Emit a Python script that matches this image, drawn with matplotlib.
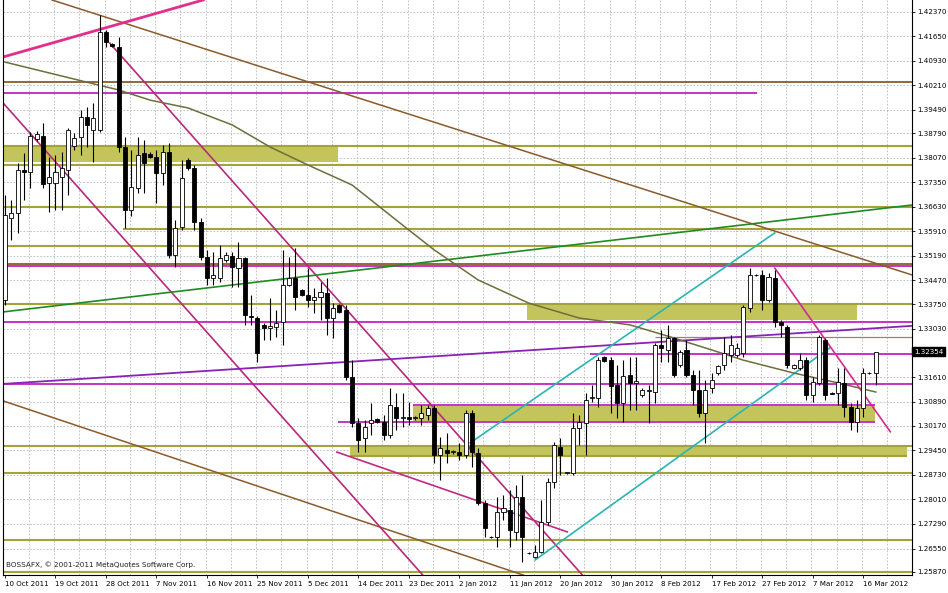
import numpy as np
import matplotlib
matplotlib.use('Agg')
import matplotlib.pyplot as plt
from matplotlib.patches import Rectangle
from matplotlib import transforms

# bougies journalieres (barres du dimanche comprises), 10 Oct 2011 -> 19 Mar 2012
opens = [1.3388, 1.3630, 1.3645, 1.3771, 1.3765, 1.3863, 1.3871, 1.3733, 1.3733, 1.3751,
         1.3771, 1.3842, 1.3868, 1.3927, 1.3889, 1.3889, 1.4178, 1.4142, 1.4134, 1.3839,
         1.3653, 1.3718, 1.3821, 1.3818, 1.3810, 1.3762, 1.3824, 1.3521, 1.3603, 1.3801,
         1.3777, 1.3618, 1.3515, 1.3453, 1.3453, 1.3506, 1.3518, 1.3482, 1.3512, 1.3341,
         1.3335, 1.3315, 1.3306, 1.3309, 1.3324, 1.3432, 1.3453, 1.3418, 1.3403, 1.3388,
         1.3397, 1.3409, 1.3335, 1.3374, 1.3359, 1.3161, 1.3026, 1.2982, 1.3026, 1.3038,
         1.3029, 1.2991, 1.3073, 1.3041, 1.3044, 1.3041, 1.3041, 1.3050, 1.3070, 1.2932,
         1.2946, 1.2940, 1.2940, 1.2932, 1.3055, 1.2937, 1.2790, 1.2691, 1.2690, 1.2764,
         1.2770, 1.2705, 1.2808, 1.2643, 1.2631, 1.2646, 1.2734, 1.2852, 1.2955, 1.2879,
         1.2879, 1.3011, 1.3026, 1.3100, 1.3100, 1.3220, 1.3211, 1.3138, 1.3085, 1.3167,
         1.3144, 1.3108, 1.3120, 1.3117, 1.3256, 1.3241, 1.3276, 1.3197, 1.3241, 1.3167,
         1.3123, 1.3055, 1.3129, 1.3173, 1.3197, 1.3226, 1.3226, 1.3232, 1.3365, 1.3462,
         1.3462, 1.3388, 1.3453, 1.3324, 1.3309, 1.3188, 1.3188, 1.3211, 1.3108, 1.3144,
         1.3270, 1.3114, 1.3114, 1.3144, 1.3073, 1.3029, 1.3070, 1.3173, 1.3173]
highs = [1.3698, 1.3683, 1.3792, 1.3821, 1.3883, 1.3886, 1.3910, 1.3810, 1.3815, 1.3824,
         1.3895, 1.3880, 1.3948, 1.3957, 1.3969, 1.4228, 1.4184, 1.4145, 1.4163, 1.3868,
         1.3830, 1.3868, 1.3860, 1.3824, 1.3830, 1.3845, 1.3851, 1.3624, 1.3801, 1.3807,
         1.3786, 1.3630, 1.3536, 1.3530, 1.3550, 1.3530, 1.3530, 1.3559, 1.3515, 1.3403,
         1.3341, 1.3321, 1.3394, 1.3359, 1.3536, 1.3515, 1.3541, 1.3421, 1.3482, 1.3424,
         1.3441, 1.3453, 1.3379, 1.3377, 1.3374, 1.3211, 1.3041, 1.3035, 1.3085, 1.3041,
         1.3050, 1.3129, 1.3114, 1.3114, 1.3088, 1.3047, 1.3079, 1.3079, 1.3079, 1.2985,
         1.2997, 1.2946, 1.2967, 1.3064, 1.3064, 1.2952, 1.2799, 1.2693, 1.2808, 1.2814,
         1.2829, 1.2843, 1.2873, 1.2646, 1.2667, 1.2799, 1.2864, 1.2970, 1.2982, 1.2882,
         1.3055, 1.3050, 1.3114, 1.3138, 1.3220, 1.3223, 1.3220, 1.3197, 1.3211, 1.3220,
         1.3220, 1.3129, 1.3138, 1.3262, 1.3300, 1.3315, 1.3279, 1.3241, 1.3270, 1.3182,
         1.3182, 1.3153, 1.3173, 1.3197, 1.3279, 1.3285, 1.3262, 1.3374, 1.3482, 1.3465,
         1.3477, 1.3468, 1.3477, 1.3329, 1.3315, 1.3200, 1.3232, 1.3220, 1.3161, 1.3285,
         1.3276, 1.3117, 1.3188, 1.3188, 1.3085, 1.3094, 1.3188, 1.3176, 1.3232]
lows = [1.3374, 1.3565, 1.3586, 1.3683, 1.3718, 1.3857, 1.3718, 1.3648, 1.3653, 1.3653,
        1.3698, 1.3830, 1.3815, 1.3839, 1.3795, 1.3883, 1.4134, 1.4134, 1.3824, 1.3600,
        1.3636, 1.3703, 1.3703, 1.3807, 1.3674, 1.3727, 1.3512, 1.3485, 1.3594, 1.3771,
        1.3594, 1.3506, 1.3432, 1.3432, 1.3441, 1.3500, 1.3427, 1.3427, 1.3315, 1.3315,
        1.3206, 1.3270, 1.3270, 1.3279, 1.3256, 1.3429, 1.3359, 1.3400, 1.3368, 1.3350,
        1.3329, 1.3285, 1.3276, 1.3350, 1.3153, 1.3014, 1.2940, 1.2940, 1.2991, 1.3026,
        1.2976, 1.2982, 1.3005, 1.3014, 1.3020, 1.3035, 1.3020, 1.3035, 1.2908, 1.2858,
        1.2908, 1.2935, 1.2917, 1.2923, 1.2896, 1.2784, 1.2690, 1.2687, 1.2661, 1.2740,
        1.2661, 1.2681, 1.2616, 1.2640, 1.2628, 1.2643, 1.2725, 1.2834, 1.2873, 1.2876,
        1.2873, 1.2961, 1.2932, 1.3088, 1.3073, 1.3206, 1.3055, 1.3041, 1.3029, 1.3064,
        1.3064, 1.3103, 1.3026, 1.3085, 1.3206, 1.3206, 1.3161, 1.3191, 1.3161, 1.3079,
        1.3044, 1.2967, 1.3114, 1.3167, 1.3182, 1.3206, 1.3220, 1.3220, 1.3353, 1.3459,
        1.3359, 1.3382, 1.3309, 1.3279, 1.3188, 1.3185, 1.3182, 1.3094, 1.3088, 1.3138,
        1.3094, 1.3111, 1.3079, 1.3044, 1.3005, 1.3000, 1.3044, 1.3170, 1.3138]
closes = [1.3639, 1.3645, 1.3771, 1.3765, 1.3871, 1.3877, 1.3730, 1.3751, 1.3765, 1.3777,
          1.3889, 1.3866, 1.3927, 1.3904, 1.3924, 1.4178, 1.4148, 1.4136, 1.3839, 1.3653,
          1.3721, 1.3815, 1.3792, 1.3810, 1.3762, 1.3824, 1.3521, 1.3600, 1.3748, 1.3777,
          1.3618, 1.3515, 1.3453, 1.3462, 1.3512, 1.3521, 1.3485, 1.3512, 1.3344, 1.3338,
          1.3232, 1.3306, 1.3312, 1.3321, 1.3432, 1.3453, 1.3397, 1.3403, 1.3388, 1.3397,
          1.3412, 1.3335, 1.3365, 1.3353, 1.3161, 1.3026, 1.2976, 1.3014, 1.3035, 1.3029,
          1.2991, 1.3079, 1.3041, 1.3044, 1.3038, 1.3044, 1.3055, 1.3070, 1.2932, 1.2952,
          1.2937, 1.2943, 1.2932, 1.3055, 1.2940, 1.2790, 1.2717, 1.2689, 1.2764, 1.2776,
          1.2711, 1.2808, 1.2690, 1.2643, 1.2646, 1.2734, 1.2852, 1.2961, 1.2932, 1.2881,
          1.3011, 1.3029, 1.3094, 1.3103, 1.3211, 1.3208, 1.3135, 1.3085, 1.3164, 1.3144,
          1.3150, 1.3123, 1.3123, 1.3256, 1.3247, 1.3276, 1.3167, 1.3235, 1.3167, 1.3123,
          1.3055, 1.3123, 1.3153, 1.3194, 1.3232, 1.3256, 1.3247, 1.3368, 1.3462, 1.3461,
          1.3388, 1.3456, 1.3324, 1.3315, 1.3197, 1.3197, 1.3211, 1.3108, 1.3147, 1.3279,
          1.3108, 1.3112, 1.3147, 1.3073, 1.3029, 1.3070, 1.3173, 1.3172, 1.3235]

# moyenne mobile
ma_bars = [0, 9, 18, 23, 29, 36, 42, 48, 55, 63, 68, 75, 83, 91, 99, 105, 112, 117, 125, 132, 138]
ma_vals = [1.4089, 1.4048, 1.4007, 1.3977, 1.3954, 1.3904, 1.3839, 1.3786, 1.3727, 1.3609, 1.3536,
           1.3447, 1.3379, 1.3335, 1.3315, 1.3282, 1.3241, 1.3211, 1.3173, 1.3144, 1.3117]

# echelle de droite
price_ticks = [1.42370, 1.41650, 1.40930, 1.40210, 1.39490, 1.38790, 1.38070, 1.37350, 1.36630,
               1.35910, 1.35190, 1.34470, 1.33750, 1.33030, 1.32320, 1.31610, 1.30890, 1.30170,
               1.29450, 1.28730, 1.28010, 1.27290, 1.26550, 1.25870]
last_price = 1.32354

date_bars = [0, 8, 16, 24, 32, 40, 48, 56, 64, 72, 80, 88, 96, 104, 112, 120, 128, 136]
date_labels = ['10 Oct 2011', '19 Oct 2011', '28 Oct 2011', '7 Nov 2011', '16 Nov 2011',
               '25 Nov 2011', '5 Dec 2011', '14 Dec 2011', '23 Dec 2011', '2 Jan 2012',
               '11 Jan 2012', '20 Jan 2012', '30 Jan 2012', '8 Feb 2012', '17 Feb 2012',
               '27 Feb 2012', '7 Mar 2012', '16 Mar 2012']

# objets traces : niveaux horizontaux (prix, debut, fin)
olive_levels = [(1.3842, None, None), (1.3786, None, None), (1.3662, None, None),
                (1.3597, 18.7, None), (1.3547, None, None), (1.3377, None, None),
                (1.2958, None, None), (1.2929, 54.7, 143.0), (1.2879, None, None),
                (1.2681, None, None), (1.2587, None, None)]
thin_levels = [(1.3279, 103.0, None)]
magenta_levels = [(1.3998, None, 119.2), (1.3487, None, None), (1.3323, None, None),
                  (1.3229, 92.7, None), (1.3142, None, None), (1.3079, 64.7, 137.9),
                  (1.3029, 52.8, 137.9)]
brown_levels = [(1.4030, None, None), (1.3494, None, None)]

# zones (debut, fin, bas, haut)
zones = [(-0.3, 52.8, 1.3795, 1.3839), (82.7, 135.0, 1.3329, 1.3374),
         (64.7, 137.9, 1.3029, 1.3076), (54.7, 143.0, 1.2929, 1.2958)]

# droites (barre0, prix0, barre1, prix1)
brown_a = [7.45, 1.4272, 143.74, 1.3462]
brown_b = [-0.32, 1.3091, 82.1, 1.2578]
pink_top = [-0.32, 1.4104, 31.4, 1.4272]
chan_1 = [-0.32, 1.3969, 66.2, 1.2578]
chan_2 = [16.6, 1.4145, 91.5, 1.2578]
green_line = [-0.32, 1.3353, 143.74, 1.3668]
purple_line = [-0.32, 1.3141, 143.74, 1.3312]
cyan_up = [73.7, 1.2967, 122.0, 1.3586]
cyan_low = [84.0, 1.2622, 130.7, 1.3247]
pink_right = [122.0, 1.3482, 140.3, 1.3000]
pink_mid = [52.6, 1.2940, 89.1, 1.2705]

XMIN, XMAX = -0.32, 143.74
fig = plt.figure(figsize=(9.48, 5.93), dpi=100)
ax = fig.add_axes([3 / 948, 18 / 593, 909 / 948, 575 / 593])
ax.set_xlim(XMIN, XMAX)
ax.set_ylim(1.2578, 1.4272)

# grille pointillee
for k in range(1, 37):
    ax.axvline(4 * k - 0.2, color='#b8b8b8', lw=0.6, ls=(0, (2, 2)), zorder=0)
for v in price_ticks:
    ax.axhline(v, color='#b8b8b8', lw=0.6, ls=(0, (2, 2)), zorder=0)

zone_col = '#c4c45c'
olive = '#a3a33a'
magenta = '#c832c8'
brown = '#8b5a2b'

for x0, x1, lo, hi in zones:
    ax.add_patch(Rectangle((x0, lo), x1 - x0, hi - lo, facecolor=zone_col, edgecolor='none', zorder=1))


def hlevel(p, a, b, col, lw):
    a = XMIN if a is None else a
    b = XMAX if b is None else b
    ax.plot([a, b], [p, p], color=col, lw=lw, zorder=2, solid_capstyle='butt')


for p, a, b in olive_levels:
    hlevel(p, a, b, olive, 1.5)
for p, a, b in thin_levels:
    hlevel(p, a, b, '#8c8c6a', 0.9)
for p, a, b in brown_levels:
    hlevel(p, a, b, brown, 1.3)
for p, a, b in magenta_levels:
    hlevel(p, a, b, magenta, 1.4)


def seg(l, col, lw):
    ax.plot([l[0], l[2]], [l[1], l[3]], color=col, lw=lw, zorder=2)


seg(brown_a, brown, 1.1)
seg(brown_b, brown, 1.1)
seg(pink_top, '#e0308c', 2.0)
seg(chan_1, '#b8287c', 1.2)
seg(chan_2, '#b8287c', 1.2)
seg(green_line, '#1e8c1e', 1.2)
seg(purple_line, '#8a22b4', 1.3)
seg(cyan_up, '#2ab4b4', 1.2)
seg(cyan_low, '#2ab4b4', 1.2)
seg(pink_right, '#d02c90', 1.2)
seg(pink_mid, '#c02a84', 1.2)

ax.plot(ma_bars, ma_vals, color='#6e6e3c', lw=1.1, zorder=2)

# bougies
x = np.arange(len(opens))
ax.vlines(x, lows, highs, color='black', lw=0.8, zorder=4)
for i in range(len(opens)):
    o, c = opens[i], closes[i]
    h = max(abs(c - o), 0.00004)
    face = 'white' if c >= o else 'black'
    ax.add_patch(Rectangle((i - 0.32, min(o, c)), 0.64, h, facecolor=face,
                           edgecolor='black', lw=0.6, zorder=5))

# axes facon MetaTrader
ax.yaxis.tick_right()
ax.set_yticks(price_ticks)
ax.set_yticklabels(['' if abs(v - 1.3232) < 1e-6 else '%.5f' % v for v in price_ticks])
ax.set_xticks(date_bars)
ax.set_xticklabels(date_labels, ha='left')
ax.tick_params(axis='both', labelsize=5.1, length=2.5, width=0.6, pad=1.5, colors='black')
ax.spines['top'].set_visible(False)
for s in ['left', 'right', 'bottom']:
    ax.spines[s].set_linewidth(0.8)

trans = transforms.blended_transform_factory(ax.transAxes, ax.transData)
ax.text(1.002, last_price, '%.5f' % last_price, transform=trans, fontsize=5.1, color='white',
        va='center', ha='left', bbox=dict(facecolor='black', edgecolor='black', pad=1.0))

ax.text(0.003, 0.012, 'BOSSAFX, \u00a9 2001-2011 MetaQuotes Software Corp.', transform=ax.transAxes,
        fontsize=5.2, color='#202020', va='bottom', ha='left', zorder=6)

fig.savefig('out.png', dpi=100)
